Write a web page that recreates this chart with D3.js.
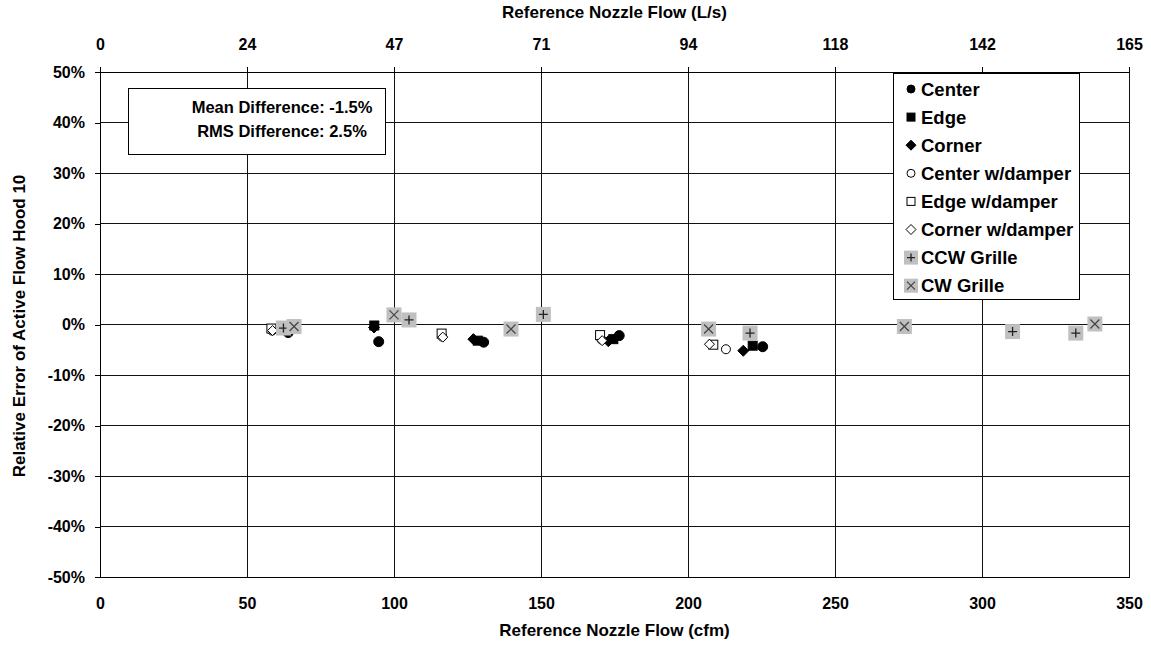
<!DOCTYPE html>
<html><head><meta charset="utf-8">
<script src="https://cdn.jsdelivr.net/npm/d3@7"></script>
<style>
body{margin:0;background:#fff;}
svg text{font-family:"Liberation Sans",Arial,sans-serif;font-weight:bold;fill:#000;}
</style></head>
<body><svg id="c" width="1151" height="647"></svg>
<script>
// ---- data ----
const xTicks = [0,50,100,150,200,250,300,350];
const topTickLabels = ["0","24","47","71","94","118","142","165"];
const yTicks = [-50,-40,-30,-20,-10,0,10,20,30,40,50];
const seriesNames = ["Center","Edge","Corner","Center w/damper","Edge w/damper","Corner w/damper","CCW Grille","CW Grille"];
const center = [[64,-1.6],[94.8,-3.4],[130.5,-3.5],[176.6,-2.2],[225.4,-4.4]];
const edge = [[93.3,-0.2],[128.5,-3.2],[174.6,-2.9],[222,-4.2]];
const corner = [[93.2,-0.6],[127,-2.9],[172.9,-3.3],[218.8,-5.2]];
const centerDamper = [[58.5,-1.2],[116.4,-2.4],[170.6,-3.0],[212.9,-4.9]];
const edgeDamper = [[58.3,-0.8],[116.2,-1.8],[170.1,-2.1],[208.6,-4.0]];
const cornerDamper = [[58.7,-1.2],[116.6,-2.5],[170.8,-3.2],[207.3,-3.9]];
const ccwGrille = [[62.4,-0.7],[105.1,0.9],[150.8,2.0],[221.1,-1.7],[310.4,-1.4],[331.9,-1.7]];
const cwGrille = [[66,-0.4],[100,1.9],[139.8,-0.9],[207,-0.9],[273.6,-0.4],[338.4,0.1]];
const statsLines = ["Mean Difference: -1.5%","RMS Difference: 2.5%"];
const cfmToLs = 0.4719474;

// ---- drawing ----
const svg = d3.select("#c");
const L=100,R=1129,T=72,B=577;
const x = d3.scaleLinear().domain([0,350]).range([L,R]);
const xTop = d3.scaleLinear().domain([0,350*cfmToLs]).range([L,R]);
const y = d3.scaleLinear().domain([-50,50]).range([B,T]);

// gridlines
const g = svg.append("g");
g.selectAll(".vg").data(xTicks).join("line")
 .attr("x1",d=>x(d)).attr("x2",d=>x(d)).attr("y1",T).attr("y2",B)
 .attr("stroke","#111").attr("stroke-width",1).attr("shape-rendering","crispEdges");
g.selectAll(".hg").data(yTicks).join("line")
 .attr("x1",L).attr("x2",R).attr("y1",d=>y(d)).attr("y2",d=>y(d))
 .attr("stroke","#111").attr("stroke-width",1).attr("shape-rendering","crispEdges");

// left axis
const yAxis = d3.axisLeft(y).tickValues(yTicks).tickSize(5).tickFormat(d=>d+"%");
const ya = svg.append("g").attr("transform",`translate(${L},0)`).call(yAxis);
ya.select(".domain").attr("stroke","#000").attr("shape-rendering","crispEdges");
ya.selectAll(".tick line").attr("stroke","#000").attr("shape-rendering","crispEdges");
ya.selectAll("text").attr("font-size",16).attr("x",-15).attr("font-family","Liberation Sans").attr("font-weight","bold");

// bottom axis
const xAxis = d3.axisBottom(x).tickValues(xTicks).tickSize(0).tickFormat(d3.format("d"));
const xa = svg.append("g").attr("transform",`translate(0,${B})`).call(xAxis);
xa.select(".domain").attr("stroke","#000").attr("shape-rendering","crispEdges");
xa.selectAll("text").attr("font-size",16).attr("y",21).attr("font-family","Liberation Sans").attr("font-weight","bold");

// top axis
const topAxis = d3.axisTop(xTop).tickValues(xTicks.map(v=>v*cfmToLs)).tickSize(5)
 .tickFormat((d,i)=>topTickLabels[i]);
const ta = svg.append("g").attr("transform",`translate(0,${T})`).call(topAxis);
ta.select(".domain").attr("stroke","#000").attr("shape-rendering","crispEdges");
ta.selectAll(".tick line").attr("stroke","#000").attr("shape-rendering","crispEdges");
ta.selectAll("text").attr("font-size",16).attr("y",-22).attr("font-family","Liberation Sans").attr("font-weight","bold");

// titles
svg.append("text").attr("x",(L+R)/2).attr("y",636).attr("text-anchor","middle").attr("font-size",17).text("Reference Nozzle Flow (cfm)");
svg.append("text").attr("x",(L+R)/2).attr("y",18).attr("text-anchor","middle").attr("font-size",17).text("Reference Nozzle Flow (L/s)");
svg.append("text").attr("transform",`translate(25,326) rotate(-90)`).attr("text-anchor","middle").attr("font-size",17).text("Relative Error of Active Flow Hood 10");

// stats box
svg.append("rect").attr("x",128).attr("y",88).attr("width",257).attr("height",66)
 .attr("fill","#fff").attr("stroke","#000").attr("stroke-width",1).attr("shape-rendering","crispEdges");
svg.selectAll(".st").data(statsLines).join("text")
 .attr("x",282).attr("y",(d,i)=>113+i*24).attr("text-anchor","middle").attr("font-size",16.5).text(d=>d);

// markers
function drawMarker(sel, type, s){
  if(type==="circle"||type==="ocircle"){
    sel.append("circle").attr("r",s/2)
     .attr("fill",type==="circle"?"#000":"#fff").attr("stroke","#000").attr("stroke-width",1);
  } else if(type==="square"||type==="osquare"){
    sel.append("rect").attr("x",-s/2).attr("y",-s/2).attr("width",s).attr("height",s)
     .attr("fill",type==="square"?"#000":"#fff").attr("stroke","#000").attr("stroke-width",1);
  } else if(type==="diamond"||type==="odiamond"){
    const h=s/2+1;
    sel.append("path").attr("d",`M0,${-h}L${h},0L0,${h}L${-h},0Z`)
     .attr("fill",type==="diamond"?"#000":"#fff").attr("stroke","#000").attr("stroke-width",1);
  } else if(type==="plus"||type==="cross"){
    const b=s/2+2.5;
    sel.append("rect").attr("x",-b).attr("y",-b).attr("width",2*b).attr("height",2*b).attr("fill","#c0c0c0");
    const a=s/2-0.5;
    if(type==="plus"){
      sel.append("path").attr("d",`M${-a},0H${a}M0,${-a}V${a}`).attr("stroke","#222").attr("stroke-width",1.3);
    } else {
      sel.append("path").attr("d",`M${-a},${-a}L${a},${a}M${a},${-a}L${-a},${a}`).attr("stroke","#444").attr("stroke-width",1.2);
    }
  }
}
const series = [
  {data:center,type:"circle",size:10},
  {data:edge,type:"square",size:9},
  {data:corner,type:"diamond",size:9},
  {data:centerDamper,type:"ocircle",size:9},
  {data:edgeDamper,type:"osquare",size:9},
  {data:cornerDamper,type:"odiamond",size:8},
  {data:ccwGrille,type:"plus",size:10},
  {data:cwGrille,type:"cross",size:10}
];
const pg = svg.append("g");
series.forEach(s=>{
  pg.append("g").selectAll("g").data(s.data).join("g")
   .attr("transform",d=>`translate(${x(d[0])},${y(d[1])})`)
   .each(function(){ drawMarker(d3.select(this), s.type, s.size); });
});

// legend
const lg = svg.append("g");
lg.append("rect").attr("x",893).attr("y",73).attr("width",186).attr("height",226)
 .attr("fill","#fff").attr("stroke","#000").attr("stroke-width",1).attr("shape-rendering","crispEdges");
seriesNames.forEach((n,i)=>{
  const yy = 89+i*28.1;
  const mg = lg.append("g").attr("transform",`translate(911,${yy})`);
  const t = series[i].type;
  drawMarker(mg, t, (t==="plus"||t==="cross")?9:8);
  lg.append("text").attr("x",921).attr("y",yy+6.5).attr("font-size",18.5).text(n);
});
</script></body></html>
